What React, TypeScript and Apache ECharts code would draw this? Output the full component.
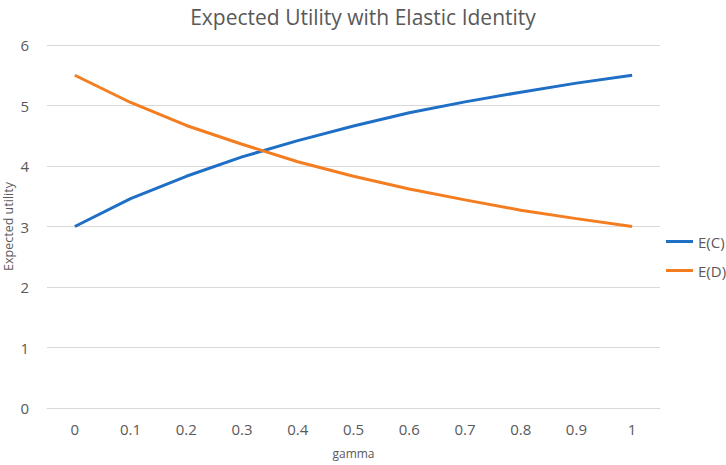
import React, { useEffect, useRef } from "react";
import * as echarts from "echarts";

const categories = ["0", "0.1", "0.2", "0.3", "0.4", "0.5", "0.6", "0.7", "0.8", "0.9", "1"];
const seriesEC = [3.0, 3.46, 3.83, 4.15, 4.42, 4.66, 4.88, 5.06, 5.22, 5.37, 5.5];
const seriesED = [5.5, 5.05, 4.67, 4.36, 4.07, 3.83, 3.62, 3.44, 3.27, 3.13, 3.0];
const yTicks = { min: 0, max: 6, interval: 1 };

const FONT = "Open Sans";

export default function App() {
  const ref = useRef<HTMLDivElement>(null);
  useEffect(() => {
    document.body.style.margin = "0";
    const chart = echarts.init(ref.current!, null, { renderer: "svg" });
    chart.setOption({
      animation: false,
      backgroundColor: "#ffffff",
      title: {
        text: "Expected Utility with Elastic Identity",
        left: "center",
        top: 1,
        textStyle: { fontFamily: FONT, fontSize: 21, fontWeight: "normal", color: "#595959" },
      },
      legend: {
        orient: "vertical",
        left: 661,
        top: 229,
        itemWidth: 27,
        itemHeight: 3,
        itemGap: 14,
        icon: "rect",
        textStyle: { fontFamily: FONT, fontSize: 15, color: "#595959" },
        data: ["E(C)", "E(D)"],
      },
      grid: { left: 47, right: 66, top: 45, bottom: 57, outerBoundsMode: "none", containLabel: false },
      xAxis: {
        type: "category",
        data: categories,
        boundaryGap: true,
        name: "gamma",
        nameLocation: "middle",
        nameGap: 39,
        nameMoveOverlap: false,
        nameTextStyle: { fontFamily: FONT, fontSize: 12, color: "#595959" },
        axisLine: { show: true, lineStyle: { color: "#d9d9d9" } },
        axisTick: { show: false },
        axisLabel: { fontFamily: FONT, fontSize: 15, color: "#595959", margin: 13 },
      },
      yAxis: {
        type: "value",
        min: yTicks.min,
        max: yTicks.max,
        interval: yTicks.interval,
        name: "Expected utility",
        nameLocation: "middle",
        nameRotate: 90,
        nameGap: 32,
        nameMoveOverlap: false,
        nameTextStyle: { fontFamily: FONT, fontSize: 12.5, color: "#595959" },
        axisLine: { show: false },
        axisTick: { show: false },
        axisLabel: { fontFamily: FONT, fontSize: 15, color: "#595959", margin: 18 },
        splitLine: { lineStyle: { color: "#d9d9d9" } },
      },
      series: [
        {
          name: "E(C)",
          type: "line",
          data: seriesEC,
          symbol: "none",
          lineStyle: { width: 3, color: "#1f6fc6" },
          itemStyle: { color: "#1f6fc6" },
        },
        {
          name: "E(D)",
          type: "line",
          data: seriesED,
          symbol: "none",
          lineStyle: { width: 3, color: "#f47d20" },
          itemStyle: { color: "#f47d20" },
        },
      ],
    });
    return () => chart.dispose();
  }, []);
  return <div ref={ref} style={{ width: 726, height: 465 }} />;
}
